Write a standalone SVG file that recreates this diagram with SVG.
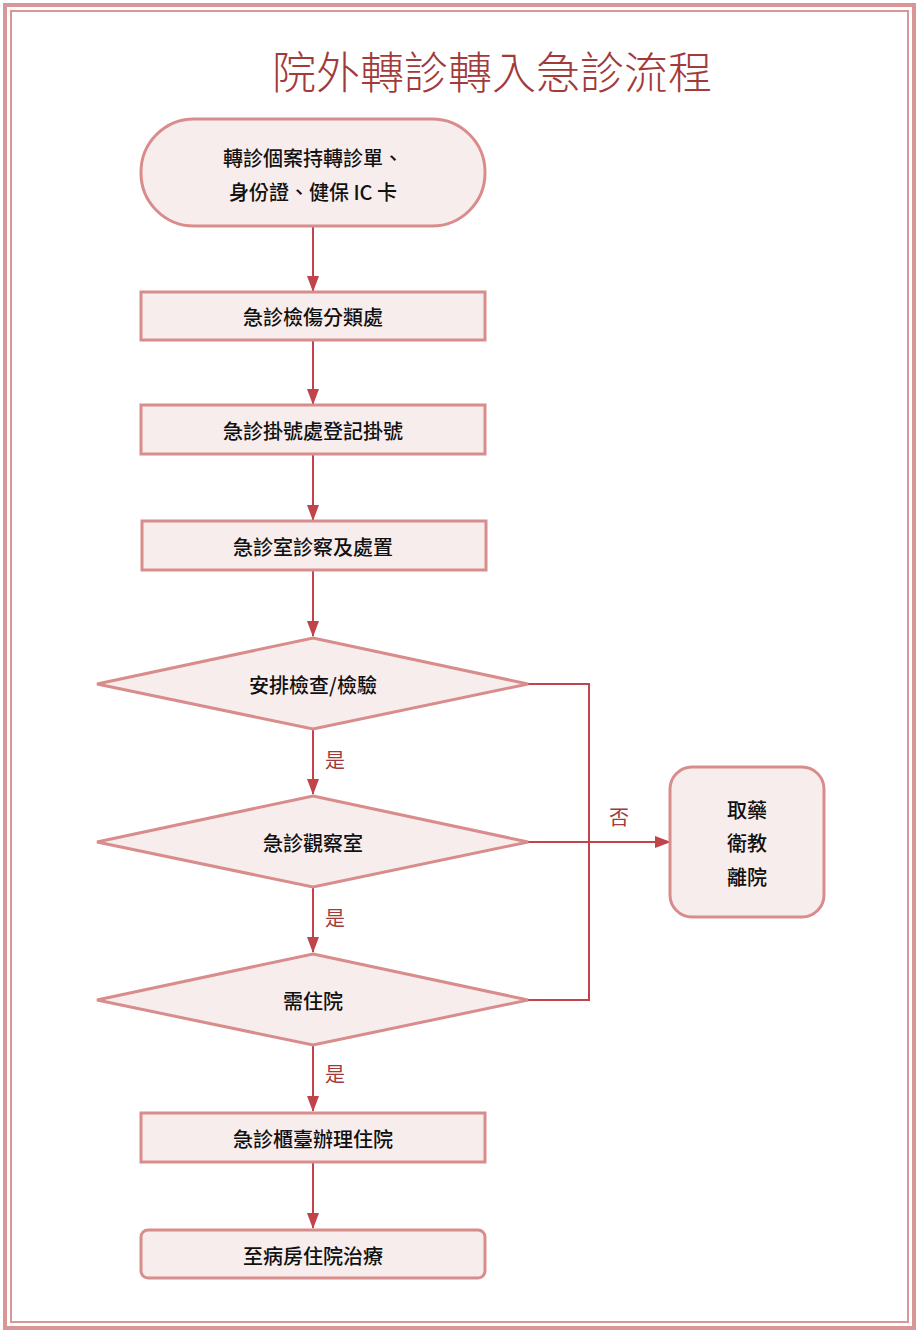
<svg xmlns="http://www.w3.org/2000/svg" width="919" height="1333" viewBox="0 0 919 1333">
<style>
.n{fill:#f8eded;stroke:#d98c8c;stroke-width:3}
.t{font-family:"Noto Sans CJK TC","Noto Sans",sans-serif;font-size:20px;font-weight:500;fill:#111;text-anchor:middle;dominant-baseline:central}
.c{fill:none;stroke:#c0444a;stroke-width:2}
.l{font-family:"Noto Sans CJK TC",sans-serif;font-size:20px;fill:#a33a3a;text-anchor:middle;dominant-baseline:central}
</style>
<defs><marker id="a" markerWidth="10" markerHeight="10" refX="9" refY="5" orient="auto" markerUnits="userSpaceOnUse" viewBox="0 0 10 10"><path d="M0,0L10,5L0,10z" fill="#c0444a"/></marker>
<marker id="b" markerWidth="16" markerHeight="12" refX="15" refY="6" orient="auto" markerUnits="userSpaceOnUse"><path d="M0,0L16,6L0,12z" fill="#c0444a"/></marker></defs>
<rect x="5" y="5" width="909" height="1323" fill="#fff" stroke="#d99696" stroke-width="4"/>
<rect x="11" y="11" width="897" height="1311" fill="none" stroke="#d99696" stroke-width="2"/>
<text x="492" y="70" font-family="Noto Sans CJK TC,sans-serif" font-size="44" font-weight="300" fill="#a33a3a" text-anchor="middle" dominant-baseline="central">院外轉診轉入急診流程</text>
<g id="connectors">
<path class="c" d="M313,226V291" marker-end="url(#b)"/>
<path class="c" d="M313,340V404" marker-end="url(#b)"/>
<path class="c" d="M313,454V520" marker-end="url(#b)"/>
<path class="c" d="M313,570V636" marker-end="url(#b)"/>
<path class="c" d="M313,729V794" marker-end="url(#b)"/>
<path class="c" d="M313,887V952" marker-end="url(#b)"/>
<path class="c" d="M313,1045V1111" marker-end="url(#b)"/>
<path class="c" d="M313,1162V1228" marker-end="url(#b)"/>
<path class="c" d="M528,684H589V1000H528"/>
<path class="c" d="M528,842H670" marker-end="url(#b)"/>
<text class="l" x="335" y="759">是</text>
<text class="l" x="335" y="917">是</text>
<text class="l" x="335" y="1073">是</text>
<text class="l" x="619" y="816">否</text>
</g>
<g id="start"><rect class="n" x="141" y="119" width="344" height="107" rx="53"/><text class="t" x="313" y="157">轉診個案持轉診單、</text><text class="t" x="313" y="191">身份證、健保 IC 卡</text></g>
<g id="triage"><rect class="n" x="141" y="292" width="344" height="48"/><text class="t" x="313" y="316">急診檢傷分類處</text></g>
<g id="register"><rect class="n" x="141" y="405" width="344" height="49"/><text class="t" x="313" y="430">急診掛號處登記掛號</text></g>
<g id="exam"><rect class="n" x="142" y="521" width="344" height="49"/><text class="t" x="313" y="546">急診室診察及處置</text></g>
<g id="d1"><polygon class="n" points="313,638 528,684 313,729 97,684"/><text class="t" x="313" y="684">安排檢查/檢驗</text></g>
<g id="d2"><polygon class="n" points="313,796 528,842 313,887 97,842"/><text class="t" x="313" y="842">急診觀察室</text></g>
<g id="d3"><polygon class="n" points="313,954 528,1000 313,1045 97,1000"/><text class="t" x="313" y="1000">需住院</text></g>
<g id="admit"><rect class="n" x="141" y="1113" width="344" height="49"/><text class="t" x="313" y="1138">急診櫃臺辦理住院</text></g>
<g id="ward"><rect class="n" x="141" y="1230" width="344" height="48" rx="7"/><text class="t" x="313" y="1255">至病房住院治療</text></g>
<g id="leave"><rect class="n" x="670" y="767" width="154" height="150" rx="22"/><text class="t" x="747" y="809">取藥</text><text class="t" x="747" y="842">衛教</text><text class="t" x="747" y="876">離院</text></g>
</svg>
